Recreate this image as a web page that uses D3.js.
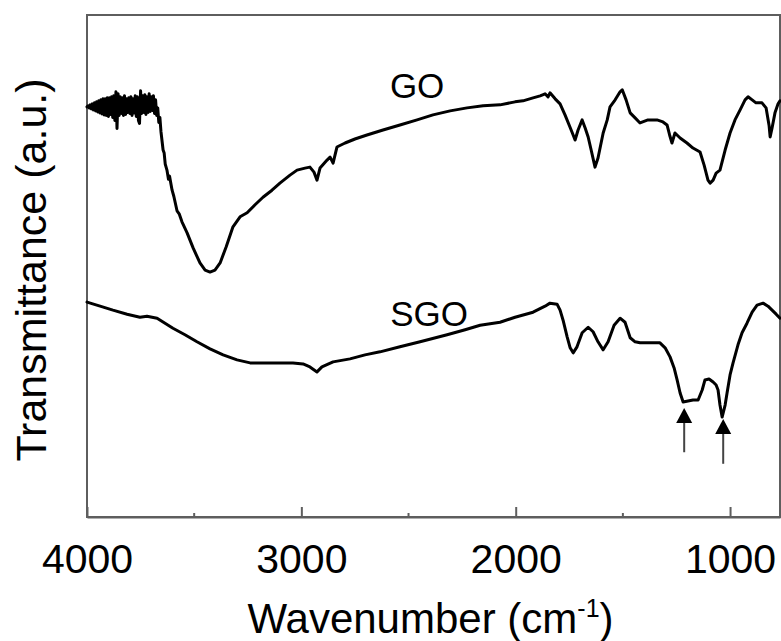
<!DOCTYPE html>
<html>
<head>
<meta charset="utf-8">
<script src="https://cdn.jsdelivr.net/npm/d3@7"></script>
<style>
  html, body { margin: 0; padding: 0; background: #fff; }
  svg { display: block; font-family: "Liberation Sans", Arial, sans-serif; }
</style>
</head>
<body>
<div id="chart"></div>
<script>
const width = 781;
const height = 641;
const margin = { top: 15, right: 1, bottom: 124, left: 87 };

// ---- data ----
const goWavenumber = [
  4000, 3995, 3990, 3985, 3980, 3975, 3970, 3965, 3960, 3955, 3950, 3945, 3940, 3935,
  3930, 3925, 3920, 3915, 3910, 3905, 3900, 3895, 3890, 3885, 3880, 3875, 3870, 3865,
  3860, 3855, 3850, 3845, 3840, 3835, 3830, 3825, 3820, 3815, 3810, 3805, 3800, 3795,
  3790, 3785, 3780, 3775, 3770, 3765, 3760, 3755, 3750, 3745, 3740, 3735, 3730, 3725,
  3720, 3715, 3710, 3705, 3700, 3695, 3690, 3685, 3680, 3675, 3670, 3665, 3660, 3655,
  3645, 3640, 3635, 3627, 3620, 3615, 3603, 3595, 3580, 3570, 3557, 3533, 3505,
  3473, 3449, 3426, 3403, 3379, 3351, 3319, 3286, 3253, 3216,
  3179, 3137, 3100, 3053, 3020, 2983, 2960, 2941, 2927, 2913, 2880, 2866, 2852, 2834,
  2796, 2750, 2694, 2619, 2540, 2460, 2386, 2306, 2227, 2152, 2073, 2003, 1966, 1919,
  1886, 1863, 1849, 1840, 1816, 1793, 1770, 1746, 1732, 1723, 1709, 1690, 1676, 1662,
  1648, 1630, 1616, 1592, 1573, 1560, 1536, 1513, 1503, 1485, 1466, 1443, 1420, 1383,
  1341, 1313, 1294, 1282, 1271, 1257, 1233, 1201, 1173, 1140, 1121, 1103, 1093, 1079,
  1065, 1047, 1023, 1000, 977, 953, 930, 916, 897, 879, 851, 832, 818, 813, 804, 790,
  776, 767
];
const goValue = [
  81.7, 81.9, 81.5, 82.1, 81.3, 82.3, 81.1, 82.5, 80.9, 82.7, 80.7, 82.9, 80.5, 83.1,
  80.3, 83.3, 80.1, 83.3, 80.0, 83.5, 79.8, 83.5, 80.2, 83.7, 79.6, 83.9, 79.0, 84.7,
  77.4, 84.3, 80.0, 83.7, 80.4, 83.5, 80.0, 83.9, 80.2, 83.3, 80.6, 83.5, 80.4, 83.7,
  80.0, 83.3, 80.5, 83.9, 79.8, 83.7, 79.0, 78.4, 84.9, 80.4, 83.9, 80.6, 84.1, 80.2,
  83.7, 80.6, 84.3, 80.8, 83.7, 81.0, 83.9, 80.4, 83.1, 80.0, 81.5, 78.6, 79.6, 76.8,
  73.1, 72.5, 70.3, 69.1, 67.3, 67.9, 65.1, 63.9, 61.0, 60.4, 58.8, 56.6, 53.6,
  50.6, 49.2, 48.8, 49.2, 50.6, 53.8, 57.8, 59.8, 60.6, 62.2,
  63.7, 65.1, 66.5, 68.1, 69.1, 69.5, 69.7, 68.7, 67.1, 69.5, 71.1, 71.7, 70.5, 73.7,
  74.5, 75.3, 76.1, 77.1, 78.1, 79.1, 80.1, 80.9, 81.5, 81.9, 82.1, 82.7, 82.9, 83.5,
  83.9, 84.3, 83.7, 84.5, 83.3, 82.3, 80.1, 77.6, 76.1, 75.1, 77.1, 79.1, 77.5, 75.7,
  73.1, 69.7, 71.5, 76.5, 79.1, 81.7, 83.1, 84.7, 85.1, 83.1, 80.5, 79.5, 78.5, 79.1,
  79.1, 78.7, 78.1, 76.1, 74.5, 76.5, 75.5, 74.5, 73.5, 72.7, 70.1, 67.1, 66.5, 67.1,
  68.5, 69.1, 73.1, 76.5, 79.1, 81.1, 83.1, 83.7, 83.1, 82.5, 82.5, 81.5, 78.0, 75.7,
  77.5, 80.6, 82.3, 82.9
];

const sgoWavenumber = [
  4000, 3939, 3879, 3813, 3753, 3720, 3673, 3636, 3599, 3543, 3487, 3426, 3365, 3300,
  3239, 3146, 3039, 2992, 2960, 2927, 2904, 2852, 2773, 2703, 2633, 2540, 2446, 2320,
  2236, 2166, 2073, 2003, 1919, 1863, 1840, 1807, 1793, 1779, 1760, 1746, 1732, 1714,
  1690, 1662, 1639, 1616, 1592, 1569, 1541, 1513, 1490, 1466, 1443, 1420, 1373, 1327,
  1303, 1280, 1261, 1247, 1233, 1219, 1196, 1173, 1149, 1130, 1117, 1098, 1079, 1065,
  1056, 1047, 1037, 1023, 1014, 1000, 986, 963, 944, 921, 897, 874, 846, 823, 804, 785,
  767
];
const sgoValue = [
  42.8, 42.0, 41.2, 40.4, 39.8, 40.0, 39.6, 38.6, 37.6, 36.3, 34.9, 33.5, 32.3, 31.3,
  30.7, 30.7, 30.7, 30.5, 29.9, 28.9, 29.9, 30.9, 31.5, 32.3, 32.9, 33.9, 34.9, 36.3,
  37.3, 38.2, 38.8, 39.8, 40.8, 42.0, 42.6, 42.4, 41.2, 39.2, 35.9, 33.7, 32.7, 33.9,
  36.7, 37.8, 36.9, 34.9, 33.3, 34.9, 38.2, 39.6, 38.8, 35.7, 34.9, 34.7, 34.7, 34.7,
  33.7, 31.9, 29.7, 27.3, 24.7, 22.9, 23.1, 23.3, 23.3, 25.3, 27.3, 27.5, 26.9, 26.3,
  25.3, 22.3, 19.9, 22.3, 24.7, 28.3, 30.7, 34.3, 36.7, 38.6, 40.8, 42.2, 42.6, 42.0,
  41.2, 40.4, 39.6
];

// sulfonate bands marked with arrows
const arrowWavenumber = [1214, 1032];
const arrowTip = [21.7, 19.5];
const arrowTail = [12.9, 10.6];

const seriesLabels = ["GO", "SGO"];
const labelWavenumber = [2460, 2404];
const labelValue = [83.5, 38.0];

const majorTicks = [4000, 3000, 2000, 1000];
const minorTicks = [3500, 2500, 1500];

// ---- scales ----
const x = d3.scaleLinear()
    .domain([4000, 767])
    .range([margin.left, width - margin.right]);

const y = d3.scaleLinear()
    .domain([0, 100])
    .range([height - margin.bottom, margin.top]);

const svg = d3.select("#chart")
    .append("svg")
    .attr("width", width)
    .attr("height", height);

const frameColor = "#5e5e5e";

// frame
svg.append("rect")
    .attr("x", x(4000))
    .attr("y", y(100))
    .attr("width", x(767) - x(4000))
    .attr("height", y(0) - y(100))
    .attr("fill", "none")
    .attr("stroke", frameColor)
    .attr("stroke-width", 2);

// x axis, ticks point inward
const xAxis = svg.append("g")
    .attr("transform", `translate(0,${y(0)})`)
    .call(d3.axisBottom(x)
        .tickValues(majorTicks)
        .tickFormat(d3.format("d"))
        .tickSizeInner(-10)
        .tickSizeOuter(0)
        .tickPadding(27));

xAxis.select(".domain").attr("stroke", frameColor).attr("stroke-width", 2);
xAxis.selectAll(".tick line").attr("stroke", frameColor).attr("stroke-width", 2);
xAxis.selectAll(".tick text")
    .attr("fill", "#000")
    .attr("font-size", 41)
    .attr("font-family", "Liberation Sans, Arial, sans-serif");

svg.append("g")
    .selectAll("line")
    .data(minorTicks)
    .join("line")
    .attr("x1", d => x(d))
    .attr("x2", d => x(d))
    .attr("y1", y(0))
    .attr("y2", y(0) - 4)
    .attr("stroke", frameColor)
    .attr("stroke-width", 2);

// spectra
const line = d3.line()
    .x(d => x(d[0]))
    .y(d => y(d[1]));

const spectra = [
    d3.zip(goWavenumber, goValue),
    d3.zip(sgoWavenumber, sgoValue)
];

svg.append("g")
    .selectAll("path")
    .data(spectra)
    .join("path")
    .attr("d", line)
    .attr("fill", "none")
    .attr("stroke", "#000")
    .attr("stroke-width", 3)
    .attr("stroke-linejoin", "round")
    .attr("stroke-linecap", "round");

// arrows
const arrows = svg.append("g")
    .selectAll("g")
    .data(arrowWavenumber.map((w, i) => ({ w, tip: arrowTip[i], tail: arrowTail[i] })))
    .join("g");

arrows.append("line")
    .attr("x1", d => x(d.w))
    .attr("x2", d => x(d.w))
    .attr("y1", d => y(d.tail))
    .attr("y2", d => y(d.tip) + 12)
    .attr("stroke", "#444")
    .attr("stroke-width", 2);

arrows.append("path")
    .attr("d", d => {
        const cx = x(d.w), ty = y(d.tip);
        return `M${cx},${ty}L${cx - 8},${ty + 15}L${cx + 8},${ty + 15}Z`;
    })
    .attr("fill", "#000");

// series labels
svg.append("g")
    .selectAll("text")
    .data(seriesLabels)
    .join("text")
    .attr("x", (d, i) => x(labelWavenumber[i]))
    .attr("y", (d, i) => y(labelValue[i]))
    .attr("text-anchor", "middle")
    .attr("font-size", 35)
    .text(d => d);

// axis titles
const xTitle = svg.append("text")
    .attr("x", (x(4000) + x(767)) / 2 - 3)
    .attr("y", 633)
    .attr("text-anchor", "middle")
    .attr("font-size", 42);
xTitle.append("tspan").text("Wavenumber (cm");
xTitle.append("tspan").attr("font-size", 25).attr("dy", -16).text("-1");
xTitle.append("tspan").attr("dy", 16).text(")");

svg.append("text")
    .attr("transform", `translate(46,${(y(0) + y(100)) / 2 + 4}) rotate(-90)`)
    .attr("text-anchor", "middle")
    .attr("font-size", 43)
    .text("Transmittance (a.u.)");
</script>
</body>
</html>
